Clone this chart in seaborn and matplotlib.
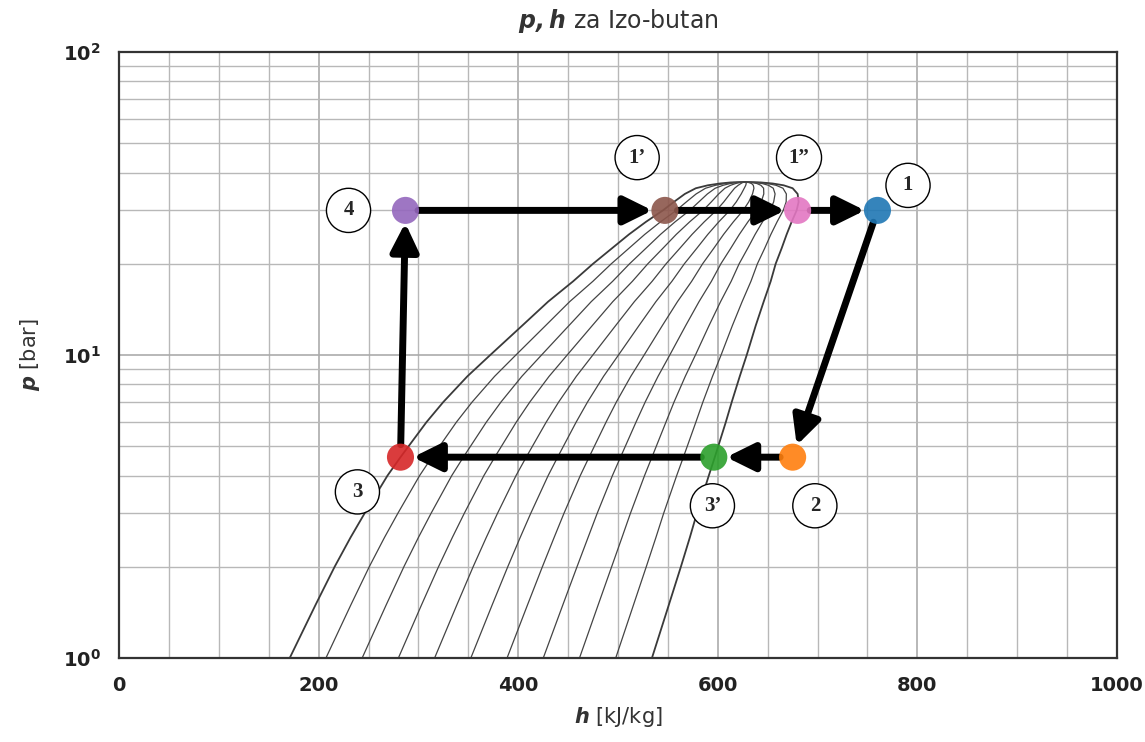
import numpy as np
import pandas as pd
import matplotlib
matplotlib.use("Agg")
import matplotlib.pyplot as plt
from matplotlib.ticker import MultipleLocator, LogLocator, NullFormatter
import seaborn as sns

# ---- data ----
p_sat = [1.0, 1.5, 2.0, 2.5, 3.0, 4.0, 4.6, 6.0, 7.0, 8.5, 10.0, 12.5, 15.0, 17.5,
         20.0, 22.5, 25.0, 27.5, 30.0, 32.0, 34.0, 35.5, 36.3, 36.8, 37.1, 37.2]
h_liq = [171, 197, 216, 232, 246, 269, 282, 308, 325, 349, 372, 404, 430, 455,
         475, 494, 511, 528, 545, 556, 567, 578, 590, 602, 613, 627]
h_vap = [534, 551, 563, 572, 579, 591, 597, 608, 614, 622, 629, 638, 646, 653,
         658, 664, 669, 674, 679, 681, 680, 675, 666, 655, 643, 627]
qualities = [0.1, 0.2, 0.3, 0.4, 0.5, 0.6, 0.7, 0.8, 0.9]

state_names = ["1", "2", "3’", "3", "4", "1’", "1”"]
state_h = [760, 675, 596, 282, 287, 547, 680]
state_p = [30, 4.6, 4.6, 4.6, 30, 30, 30]
cycle_order = ["4", "1’", "1”", "1", "2", "3’", "3", "4"]

# label offsets in points (layout only)
label_offsets = {"1": (22, 18), "2": (16, -35), "3’": (-1, -35), "3": (-31, -25),
                 "4": (-41, 0), "1’": (-20, 38), "1”": (1, 38)}

# ---- figure ----
sns.set_style("white")
plt.rcParams["font.family"] = ["DejaVu Sans"]
fig = plt.figure(figsize=(11.45, 7.42), dpi=100)
ax = fig.add_axes([0.104, 0.1132, 0.8715, 0.8168])

# dome: saturated liquid + saturated vapour
dome = pd.DataFrame({
    "h": list(h_liq) + list(h_vap[::-1]),
    "p": list(p_sat) + list(p_sat[::-1]),
})
sns.lineplot(data=dome, x="h", y="p", sort=False, estimator=None, ax=ax,
             color="#3a3a3a", lw=1.3)

# constant-quality lines
rows = []
hl = np.array(h_liq, float)
hv = np.array(h_vap, float)
for q in qualities:
    for pp, hh in zip(p_sat, hl + q * (hv - hl)):
        rows.append({"h": hh, "p": pp, "x": q})
qdf = pd.DataFrame(rows)
sns.lineplot(data=qdf, x="h", y="p", units="x", estimator=None, sort=False,
             ax=ax, color="#444444", lw=0.9)

# cycle arrows
pos = {n: (h, p) for n, h, p in zip(state_names, state_h, state_p)}
for a, b in zip(cycle_order[:-1], cycle_order[1:]):
    ax.annotate("", xy=pos[b], xytext=pos[a],
                arrowprops=dict(arrowstyle="-|>,head_length=0.85,head_width=0.42",
                                mutation_scale=20, lw=5, color="black",
                                shrinkA=9, shrinkB=9), zorder=3)

# state points
sdf = pd.DataFrame({"h": state_h, "p": state_p, "state": state_names})
palette = sns.color_palette("tab10", 7)
sns.scatterplot(data=sdf, x="h", y="p", hue="state", palette=palette,
                s=380, alpha=0.9, edgecolor="none", legend=False, ax=ax, zorder=4)

for n in state_names:
    ax.annotate(n, xy=pos[n], xytext=label_offsets[n], textcoords="offset points",
                ha="center", va="center", fontsize=15, fontweight="bold",
                family="Liberation Serif",
                bbox=dict(boxstyle="circle,pad=0.58", fc="white", ec="black", lw=1.0),
                zorder=5)

ax.set_yscale("log")
ax.set_xlim(0, 1000)
ax.set_ylim(1, 100)
ax.xaxis.set_major_locator(MultipleLocator(200))
ax.xaxis.set_minor_locator(MultipleLocator(50))
ax.yaxis.set_major_locator(LogLocator(base=10))
ax.yaxis.set_minor_locator(LogLocator(base=10, subs=np.arange(2, 10)))
ax.yaxis.set_minor_formatter(NullFormatter())
ax.grid(which="major", color="#ababab", lw=1.2)
ax.grid(which="minor", color="#b8b8b8", lw=1.0)
ax.tick_params(which="major", length=5, width=1.2, labelsize=14, colors="#222222", pad=8)
ax.tick_params(which="minor", length=3, width=1.0)
for lab in ax.get_xticklabels() + ax.get_yticklabels():
    lab.set_fontweight("bold")
for s in ax.spines.values():
    s.set_color("#333333")
    s.set_linewidth(1.6)

ax.set_xlabel(r"$\mathbfit{h}$ [kJ/kg]", fontsize=15, color="#333333", labelpad=7)
ax.set_ylabel(r"$\mathbfit{p}$ [bar]", fontsize=15, color="#333333", labelpad=15)
ax.set_title(r"$\mathbfit{p, h}$ za Izo-butan", fontsize=17, color="#333333", pad=17)

fig.savefig("out.png", dpi=100)
